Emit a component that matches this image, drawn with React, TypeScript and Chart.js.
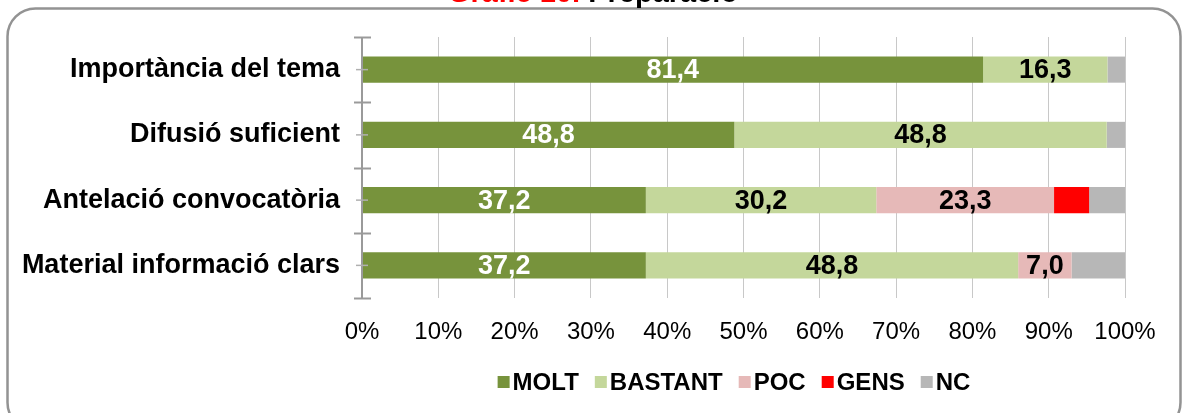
import React, { useEffect, useRef } from "react";
import { Chart, registerables } from "chart.js";

Chart.register(...registerables);

const categories = [
  "Importància del tema",
  "Difusió suficient",
  "Antelació convocatòria",
  "Material informació clars",
];
const seriesNames = ["MOLT", "BASTANT", "POC", "GENS", "NC"];
const molt = [81.4, 48.8, 37.2, 37.2];
const bastant = [16.3, 48.8, 30.2, 48.8];
const poc = [0, 0, 23.3, 7.0];
const gens = [0, 0, 4.6, 0];
const nc = [2.3, 2.4, 4.7, 7.0];
const seriesColors = ["#77933C", "#C4D79B", "#E6B9B8", "#FF0000", "#B7B7B7"];
const titleRed = "Gràfic 10.";
const titleBlack = " Preparació";

const FONT = "'Liberation Sans', Arial, sans-serif";

const decorPlugin = {
  id: "decor",
  afterDatasetsDraw(chart: any) {
    const ctx = chart.ctx;
    const area = chart.chartArea;
    const yScale = chart.scales.y;
    const xScale = chart.scales.x;
    // data labels
    ctx.save();
    ctx.font = `bold 27px ${FONT}`;
    ctx.textAlign = "center";
    ctx.textBaseline = "middle";
    chart.data.datasets.forEach((ds: any, di: number) => {
      if (di > 2) return;
      const meta = chart.getDatasetMeta(di);
      meta.data.forEach((bar: any, i: number) => {
        const v = ds.data[i];
        if (!v) return;
        const cx = (bar.x + bar.base) / 2;
        ctx.fillStyle = di === 0 ? "#FFFFFF" : "#000000";
        ctx.fillText(v.toFixed(1).replace(".", ","), cx, bar.y + 1);
      });
    });
    ctx.restore();
    // y axis line + crossing ticks
    ctx.save();
    const x0 = xScale.getPixelForValue(0);
    ctx.strokeStyle = "#9a9a9a";
    ctx.lineWidth = 2;
    ctx.beginPath();
    ctx.moveTo(x0, area.top);
    ctx.lineTo(x0, area.bottom);
    ctx.stroke();
    const n = categories.length;
    const band = (area.bottom - area.top) / n;
    for (let i = 0; i <= n; i++) {
      const y = Math.round(area.top + band * i) + 0.5;
      ctx.beginPath();
      ctx.moveTo(x0 - 8, y);
      ctx.lineTo(x0 + 9, y);
      ctx.stroke();
    }
    ctx.strokeStyle = "#b0b0b0";
    ctx.lineWidth = 1.5;
    for (let i = 0; i < n; i++) {
      const y = yScale.getPixelForValue(i);
      ctx.beginPath();
      ctx.moveTo(x0 - 6, y);
      ctx.lineTo(x0 + 6, y);
      ctx.stroke();
    }
    ctx.restore();
  },
  afterDraw(chart: any) {
    const ctx = chart.ctx;
    // legend
    ctx.save();
    ctx.font = `bold 24px ${FONT}`;
    ctx.textBaseline = "middle";
    const box = 12;
    const gap = 3;
    const itemGap = 16;
    const widths = seriesNames.map((s) => box + gap + ctx.measureText(s).width);
    const total = widths.reduce((a, b) => a + b, 0) + itemGap * (seriesNames.length - 1);
    let lx = 734 - total / 2;
    const ly = 382;
    seriesNames.forEach((s, i) => {
      ctx.fillStyle = seriesColors[i];
      ctx.fillRect(lx, ly - box / 2, box, box);
      ctx.fillStyle = "#000";
      ctx.fillText(s, lx + box + gap, ly + 1);
      lx += widths[i] + itemGap;
    });
    ctx.restore();
    // frame
    ctx.save();
    ctx.strokeStyle = "#939393";
    ctx.lineWidth = 2.5;
    ctx.beginPath();
    (ctx as any).roundRect(7.5, 8.5, 1173, 422, 28);
    ctx.stroke();
    ctx.restore();
    // title
    ctx.save();
    ctx.font = `bold 29px ${FONT}`;
    ctx.textBaseline = "alphabetic";
    const wr = ctx.measureText(titleRed).width;
    const wb = ctx.measureText(titleBlack).width;
    const tx = 593 - (wr + wb) / 2;
    ctx.fillStyle = "#FF0000";
    ctx.fillText(titleRed, tx, 2);
    ctx.fillStyle = "#000";
    ctx.fillText(titleBlack, tx + wr, 2);
    ctx.restore();
  },
};

export default function App() {
  const ref = useRef<HTMLCanvasElement | null>(null);
  useEffect(() => {
    if (!ref.current) return;
    const seriesData = [molt, bastant, poc, gens, nc];
    const chart = new Chart(ref.current, {
      type: "bar",
      data: {
        labels: categories,
        datasets: seriesNames.map((name, i) => ({
          label: name,
          data: seriesData[i],
          backgroundColor: seriesColors[i],
          borderWidth: 0,
          barPercentage: 0.4,
          categoryPercentage: 1,
        })),
      },
      options: {
        indexAxis: "y",
        responsive: false,
        animation: false,
        layout: { padding: { left: 0, right: 59, top: 37, bottom: 0 } },
        plugins: {
          legend: { display: false },
          title: { display: false },
          tooltip: { enabled: false },
        },
        scales: {
          x: {
            stacked: true,
            min: 0,
            max: 100,
            grid: { color: "#c8c8c8", lineWidth: 1, drawTicks: false },
            border: { display: false },
            ticks: {
              stepSize: 10,
              padding: 20,
              color: "#000",
              font: { family: FONT, size: 24 },
              callback: (v: any) => v + "%",
            },
            afterFit: (s: any) => {
              s.height = 115;
            },
          },
          y: {
            stacked: true,
            offset: true,
            grid: { display: false },
            border: { display: false },
            ticks: {
              padding: 14,
              color: "#000",
              font: { family: FONT, size: 27, weight: "bold" },
            },
            afterFit: (s: any) => {
              s.width = 362;
            },
          },
        },
      },
      plugins: [decorPlugin],
    });
    return () => chart.destroy();
  }, []);
  return (
    <div style={{ position: "fixed", left: 0, top: 0, width: 1184, height: 413, background: "#fff" }}>
      <canvas ref={ref} width={1184} height={413} style={{ display: "block" }} />
    </div>
  );
}
